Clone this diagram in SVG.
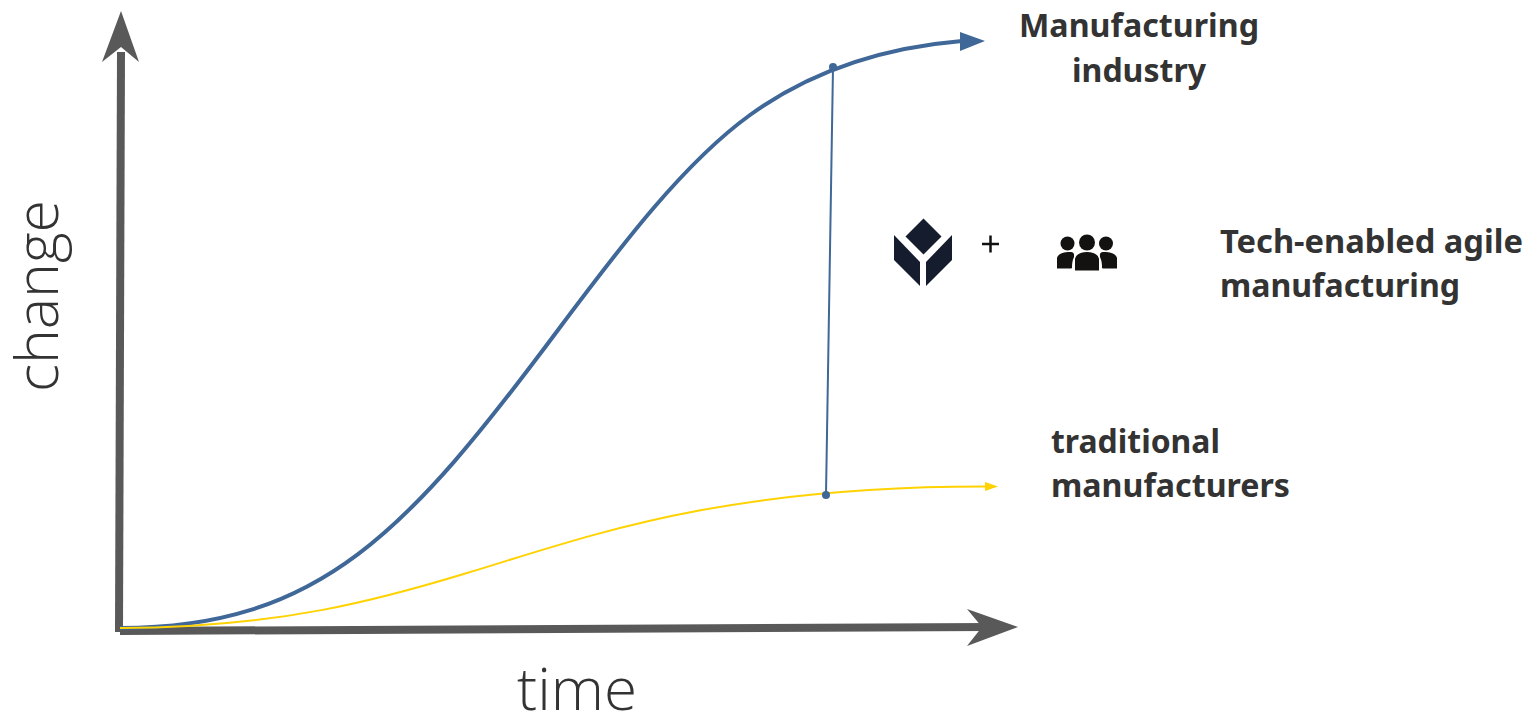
<svg xmlns="http://www.w3.org/2000/svg" width="1527" height="714" viewBox="0 0 1527 714">
<style>
.b{font-family:"Noto Sans","Open Sans","Liberation Sans",sans-serif;font-weight:700;font-size:33px;fill:#333}
.l{font-family:"Open Sans","Noto Sans","Liberation Sans",sans-serif;font-weight:350;font-size:58px;fill:#333}
.ax{fill:none;stroke:#595959;stroke-width:8}
.hd{fill:#595959}
</style>
<rect width="1527" height="714" fill="#fff"/>
<g id="connectors">
<path class="ax" d="M119 632L121 52"/>
<path class="hd" d="M121 11L139 62L121 47L102 62Z"/>
<path class="ax" d="M120 631L990 627"/>
<path class="hd" d="M1018 627L967 609L982 627L967 646Z"/>
<path d="M120 628C320 628 408 531 558 330C623 243 685 162 750 115C815 68 890 47 962 41" fill="none" stroke="#3f6797" stroke-width="4"/>
<path d="M960 32L985 41L960 51Z" fill="#3f6797"/>
<path d="M120 628C280 628 385 598 467 573C590 536 720 486 988 486.500" fill="none" stroke="#ffd200" stroke-width="2"/>
<path d="M985 482L998 486.500L985 491Z" fill="#ffd200"/>
<path d="M833 67L826 495" fill="none" stroke="#3f6797" stroke-width="2"/>
<circle cx="833" cy="67" r="4" fill="#3f6797"/>
<circle cx="826" cy="495" r="4" fill="#3f6797"/>
</g>
<g id="axis-labels">
<text class="l" x="577" y="710" text-anchor="middle" textLength="120" lengthAdjust="spacingAndGlyphs">time</text>
<text class="l" transform="translate(58 392) rotate(-90)" textLength="192" lengthAdjust="spacingAndGlyphs">change</text>
</g>
<g id="node-manufacturing-industry">
<text class="b" x="1139" y="37" text-anchor="middle" textLength="240" lengthAdjust="spacingAndGlyphs">Manufacturing</text>
<text class="b" x="1139" y="82" text-anchor="middle" textLength="134" lengthAdjust="spacingAndGlyphs">industry</text>
</g>
<g id="node-tech-enabled">
<text class="b" x="1220" y="253" textLength="303" lengthAdjust="spacingAndGlyphs">Tech-enabled agile</text>
<text class="b" x="1220" y="297" textLength="240" lengthAdjust="spacingAndGlyphs">manufacturing</text>
</g>
<g id="node-traditional">
<text class="b" x="1051" y="453" textLength="169" lengthAdjust="spacingAndGlyphs">traditional</text>
<text class="b" x="1051" y="497" textLength="239" lengthAdjust="spacingAndGlyphs">manufacturers</text>
</g>
<g id="icon-blocks" fill="#141c2e">
<path d="M923.500 218.500L941.500 236.500L923.500 254.500L905.500 236.500Z"/>
<path d="M894 235L920 262V286L894 260Z"/>
<path d="M952 235L926 262V286L952 260Z"/>
</g>
<g id="icon-plus"><path d="M982 244H999M990.500 235.500V252.500" stroke="#111" stroke-width="2.500" fill="none"/></g>
<g id="icon-people" fill="#141210">
<circle cx="1067.500" cy="243.500" r="7"/>
<circle cx="1087" cy="242.500" r="8"/>
<circle cx="1106" cy="243.500" r="7"/>
<path d="M1057 268.500V258C1058 254 1063 252 1070 252C1075 252 1074 255 1074 257C1072 261 1072 265 1072 268L1071 268.500Z"/>
<path d="M1075 270.500V259C1076 254 1081 252 1087 252C1093 252 1098 254 1099 259V270.500Z"/>
<path d="M1117 268.500V258C1116 254 1111 252 1104 252C1099 252 1100 255 1100 257C1102 261 1102 265 1102 268L1103 268.500Z"/>
</g>
</svg>
